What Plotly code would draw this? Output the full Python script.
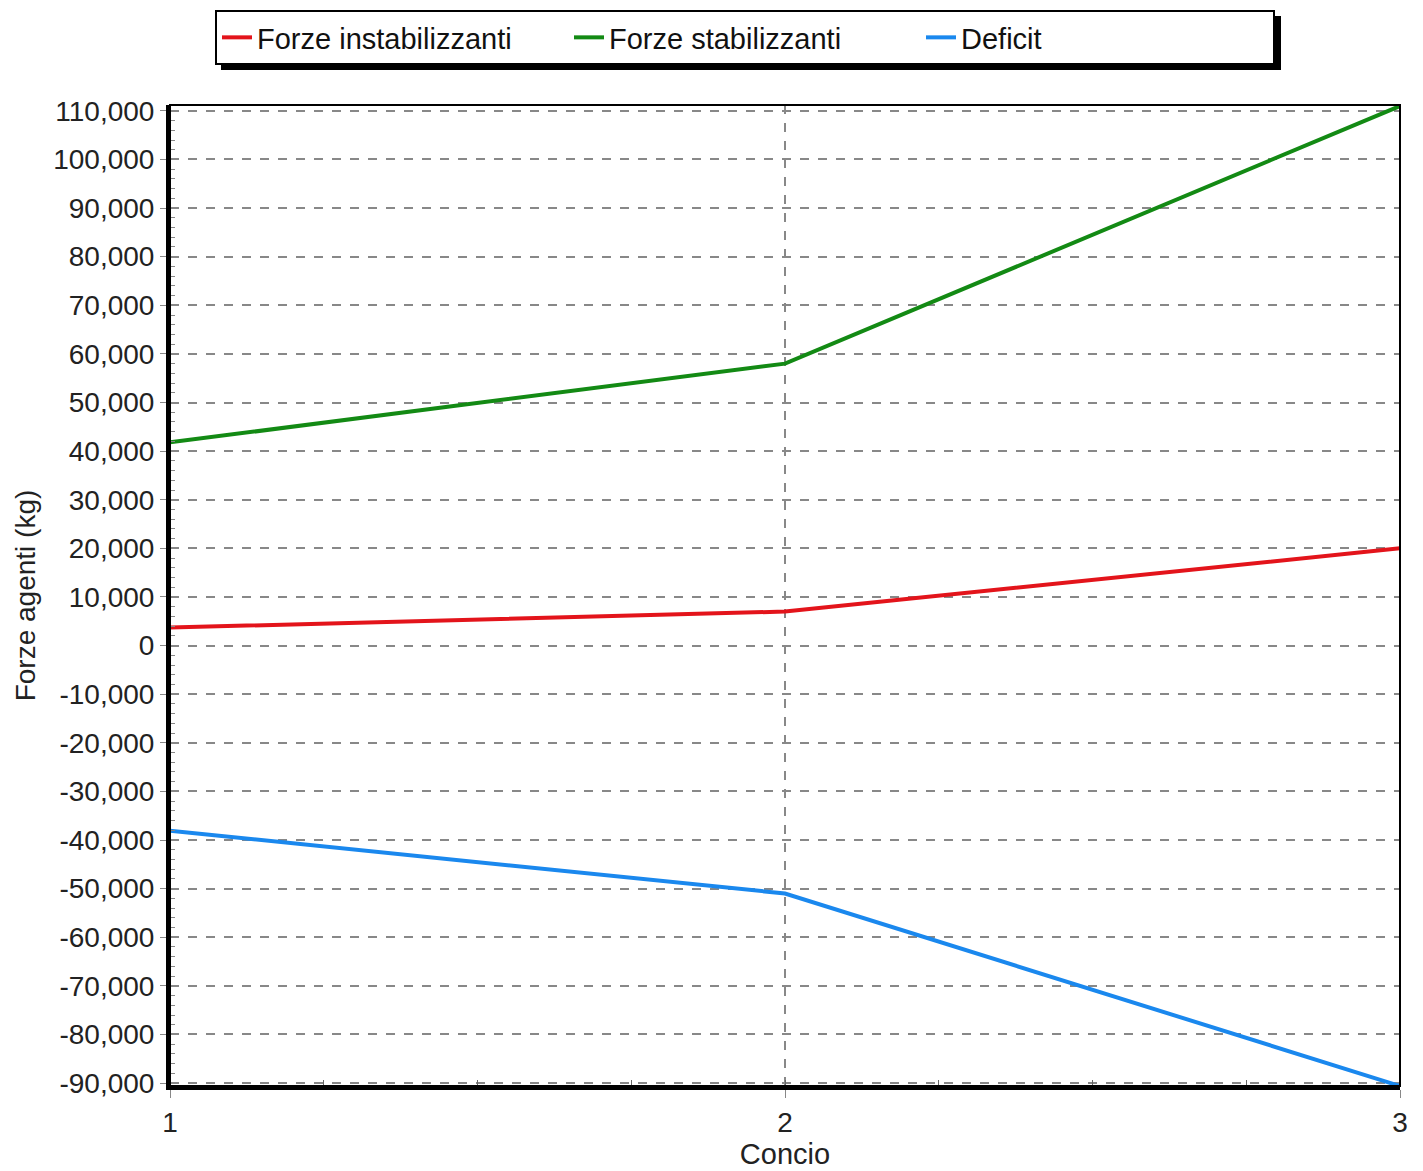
import plotly.graph_objects as go

concio = [1, 2, 3]
forze_instabilizzanti = [3700, 7000, 20000]
forze_stabilizzanti = [41800, 58000, 111000]
deficit = [-38100, -51000, -90600]

y_ticks = list(range(-90000, 110001, 10000))
y_tick_labels = [f"{v:,}" for v in y_ticks]
x_ticks = [1, 2, 3]

FONT = "Liberation Sans, Arial, sans-serif"

fig = go.Figure()
fig.add_trace(go.Scatter(x=concio, y=forze_instabilizzanti, mode="lines",
                         name="Forze instabilizzanti",
                         line=dict(color="#e3141b", width=4)))
fig.add_trace(go.Scatter(x=concio, y=forze_stabilizzanti, mode="lines",
                         name="Forze stabilizzanti",
                         line=dict(color="#138a14", width=4)))
fig.add_trace(go.Scatter(x=concio, y=deficit, mode="lines",
                         name="Deficit",
                         line=dict(color="#1a88ee", width=4)))

# legend shadow
fig.add_shape(type="rect", xref="paper", yref="paper",
              x0=(221 - 170) / 1230, x1=(1281 - 170) / 1230,
              y0=(1086 - 70) / 981, y1=(1086 - 16) / 981,
              fillcolor="black", line=dict(width=0), layer="below")
# plot border (thin top/right)
fig.add_shape(type="rect", xref="paper", yref="paper", x0=0, x1=1, y0=0, y1=1,
              line=dict(color="black", width=2), layer="above")

fig.update_layout(
    width=1415, height=1163,
    margin=dict(l=162, r=23, t=97, b=85, autoexpand=False),
    paper_bgcolor="white", plot_bgcolor="white",
    font=dict(family=FONT, size=28, color="#222"),
    showlegend=True,
    legend=dict(orientation="h", x=(215 - 170) / 1230, y=(1086 - 10) / 981,
                xanchor="left", yanchor="top",
                bgcolor="white", bordercolor="black", borderwidth=2,
                font=dict(family=FONT, size=29, color="#111"),
                entrywidth=307, entrywidthmode="pixels", tracegroupgap=0),
    xaxis=dict(
        range=[1, 3], tickvals=x_ticks, ticktext=[str(v) for v in x_ticks],
        showgrid=True, gridcolor="#888", griddash="dash", gridwidth=1.5,
        showline=True, linecolor="black", linewidth=4, mirror=False,
        ticks="outside", ticklen=8, tickcolor="#888", tickwidth=1,
        minor=dict(dtick=0.25, ticks="inside", ticklen=6, tickcolor="#666", showgrid=False),
        zeroline=False,
        title=dict(text="Concio", font=dict(size=29), standoff=4),
        tickfont=dict(size=28),
    ),
    yaxis=dict(
        range=[-90600, 111200], tickvals=y_ticks, ticktext=y_tick_labels,
        showgrid=True, gridcolor="#888", griddash="dash", gridwidth=1.5,
        showline=True, linecolor="black", linewidth=4, mirror=False,
        ticks="outside", ticklen=6, tickcolor="#888", tickwidth=1,
        minor=dict(dtick=2000, ticks="inside", ticklen=5, tickcolor="#888", showgrid=False),
        zeroline=False,
        title=dict(text="Forze agenti (kg)", font=dict(size=28), standoff=10),
        tickfont=dict(size=28),
    ),
)

fig.write_html("out.html")
